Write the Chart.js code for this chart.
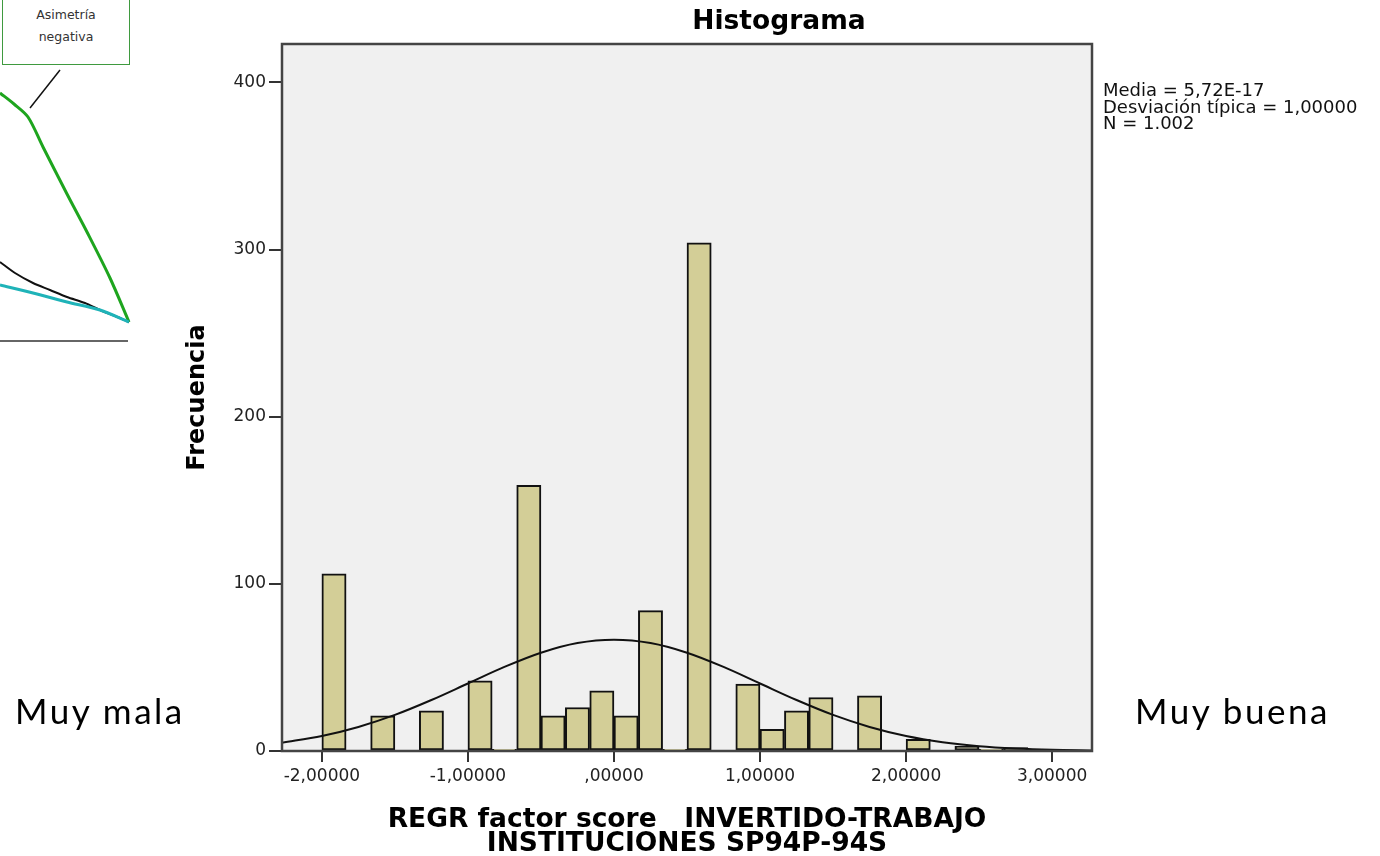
<!DOCTYPE html>
<html lang="es">
<head>
<meta charset="utf-8">
<title>Histograma</title>
<script src="https://cdn.jsdelivr.net/npm/chart.js@4.4.1/dist/chart.umd.min.js"></script>
<style>
  html, body { margin: 0; padding: 0; background: #fff; }
  #page { position: relative; width: 1380px; height: 856px; overflow: hidden; background: #fff; }
  #hist { position: absolute; left: 178px; top: 0; }
  #skew { position: absolute; left: 0; top: 0; }
  #skewBox {
    position: absolute; left: 2px; top: -10px; width: 128px; height: 75px; box-sizing: border-box;
    border: 1px solid #3f9a3f; background: #fff; text-align: center;
    font-family: "DejaVu Sans", sans-serif; font-size: 12.5px; line-height: 22px; color: #333; padding-top: 13px;
  }
  .side { position: absolute; top: 690px; font-family: Lato, sans-serif; font-size: 35px; line-height: 40px; letter-spacing: 2.5px; color: #000; }
  #stats {
    position: absolute; left: 1103px; top: 82px; font-family: "DejaVu Sans", sans-serif;
    font-size: 18px; line-height: 16.5px; color: #111; white-space: pre;
  }
</style>
</head>
<body>
<div id="page">
  <canvas id="skew" width="140" height="350"></canvas>
  <div id="skewBox">Asimetría<br>negativa</div>
  <canvas id="hist" width="1202" height="856"></canvas>
  <div class="side" id="lowLabel" style="left:15px"></div>
  <div class="side" id="highLabel" style="left:1135px"></div>
  <div id="stats"></div>
</div>
<script>
// histogram bins (centre of each bin) and counts
const binCenters = [-1.917, -1.75, -1.583, -1.417, -1.25, -1.083, -0.917, -0.75, -0.583, -0.417,
  -0.25, -0.083, 0.083, 0.25, 0.417, 0.583, 0.75, 0.917, 1.083, 1.25,
  1.417, 1.583, 1.75, 1.917, 2.083, 2.25, 2.417, 2.583, 2.75, 2.917];
const frequencies = [106, 0, 21, 0, 24, 0, 42, 1, 159, 21,
  26, 36, 21, 84, 1, 304, 0, 40, 13, 24,
  32, 0, 33, 0, 7, 0, 3, 1, 2, 1];

// normal curve
const curveX = [-2.273, -2, -1.75, -1.5, -1.25, -1, -0.75, -0.5, -0.25, 0, 0.25, 0.5,
  0.75, 1, 1.25, 1.5, 1.75, 2, 2.25, 2.5, 2.75, 3, 3.273];
const curveY = [5, 9, 14.4, 21.6, 30.5, 40.4, 50.3, 58.8, 64.6, 66.6, 64.6, 58.8,
  50.3, 40.4, 30.5, 21.6, 14.4, 9, 5.3, 2.9, 1.5, 0.7, 0.3];

const xTickValues = [-2, -1, 0, 1, 2, 3];
const xTickLabels = ['-2,00000', '-1,00000', ',00000', '1,00000', '2,00000', '3,00000'];
const yTickValues = [0, 100, 200, 300, 400];
const yTickLabels = ['0', '100', '200', '300', '400'];

const statLines = ['Media = 5,72E-17', 'Desviación típica = 1,00000', 'N = 1.002'];
const sideLabels = ['Muy mala', 'Muy buena'];

// left fragment (cut-off skewness sketch)
const greenCurve = [[0, 93], [14, 104], [28, 117], [43, 147], [67, 194], [87, 232], [110, 278], [129, 322]];
const blackCurve = [[0, 262], [15, 273], [33, 283], [50, 290], [67, 297], [85, 303], [100, 310], [115, 316], [129, 322]];
const cyanCurve = [[0, 285], [33, 293], [67, 302], [100, 310], [129, 322]];
const leaderLine = [[60, 70], [30, 108]];
const baseLine = [[0, 341], [128, 341]];

document.getElementById('stats').textContent = statLines.join('\n');
document.getElementById('lowLabel').textContent = sideLabels[0];
document.getElementById('highLabel').textContent = sideLabels[1];

const FONT = '"DejaVu Sans", sans-serif';

const plotFrame = {
  id: 'plotFrame',
  beforeDatasetsDraw(chart) {
    const a = chart.chartArea, ctx = chart.ctx;
    ctx.save();
    ctx.fillStyle = '#f0f0f0';
    ctx.fillRect(a.left, a.top, a.right - a.left, a.bottom - a.top);
    ctx.restore();
  },
  afterDatasetsDraw(chart) {
    const a = chart.chartArea, ctx = chart.ctx;
    ctx.save();
    ctx.strokeStyle = '#444';
    ctx.lineWidth = 2.5;
    ctx.strokeRect(a.left, a.top, a.right - a.left, a.bottom - a.top);
    ctx.restore();
  }
};

new Chart(document.getElementById('hist'), {
  type: 'bar',
  data: {
    datasets: [
      {
        type: 'line',
        data: curveX.map((x, i) => ({x: x, y: curveY[i]})),
        borderColor: '#111',
        borderWidth: 2,
        pointRadius: 0,
        cubicInterpolationMode: 'monotone',
        fill: false,
        order: 0
      },
      {
        type: 'bar',
        data: binCenters.map((x, i) => ({x: x, y: frequencies[i]})),
        backgroundColor: '#d3ce97',
        borderColor: '#111',
        borderWidth: 2,
        borderSkipped: false,
        barPercentage: 1,
        categoryPercentage: 1,
        order: 1
      }
    ]
  },
  options: {
    responsive: false,
    animation: false,
    devicePixelRatio: 1,
    layout: { padding: 0 },
    plugins: {
      legend: { display: false },
      tooltip: { enabled: false },
      title: {
        display: true,
        text: 'Histograma',
        color: '#000',
        font: { family: FONT, size: 26.5, weight: 'bold' },
        padding: { top: 6, bottom: 6.2 }
      }
    },
    scales: {
      x: {
        type: 'linear',
        min: -2.273,
        max: 3.273,
        offset: false,
        bounds: 'data',
        afterBuildTicks: axis => { axis.ticks = xTickValues.map(v => ({value: v})); },
        afterFit: axis => { axis.height = 105; },
        ticks: {
          autoSkip: false,
          maxRotation: 0,
          padding: 4,
          color: '#222',
          font: { family: FONT, size: 17 },
          callback: v => xTickLabels[xTickValues.indexOf(v)]
        },
        grid: { drawOnChartArea: false, drawTicks: true, tickLength: 11, tickColor: '#333', lineWidth: 2, offset: false },
        border: { display: false },
        title: {
          display: true,
          text: ['REGR factor score   INVERTIDO-TRABAJO', 'INSTITUCIONES SP94P-94S'],
          color: '#000',
          font: { family: FONT, size: 26.5, weight: 'bold', lineHeight: 0.9 },
          padding: { top: 10, bottom: 0 }
        }
      },
      y: {
        type: 'linear',
        min: 0,
        max: 423,
        bounds: 'data',
        afterBuildTicks: axis => { axis.ticks = yTickValues.map(v => ({value: v})); },
        afterFit: axis => { axis.width = 104; },
        ticks: {
          autoSkip: false,
          padding: 3,
          color: '#222',
          font: { family: FONT, size: 17 },
          callback: v => yTickLabels[yTickValues.indexOf(v)]
        },
        grid: { drawOnChartArea: false, drawTicks: true, tickLength: 13, tickColor: '#333', lineWidth: 2 },
        border: { display: false },
        title: {
          display: true,
          text: 'Frecuencia',
          color: '#000',
          font: { family: FONT, size: 24, weight: 'bold', lineHeight: 1.2 },
          padding: { top: 5, bottom: 0 }
        }
      },
      side: {
        type: 'linear',
        position: 'right',
        grid: { display: false },
        ticks: { display: false },
        border: { display: false },
        afterFit: axis => { axis.width = 288; }
      }
    }
  },
  plugins: [plotFrame]
});

const toPts = arr => arr.map(p => ({x: p[0], y: p[1]}));
new Chart(document.getElementById('skew'), {
  type: 'scatter',
  data: {
    datasets: [
      { data: toPts(baseLine), borderColor: '#666', borderWidth: 2, showLine: true, pointRadius: 0 },
      { data: toPts(cyanCurve), borderColor: '#1fb3b8', borderWidth: 3, showLine: true, pointRadius: 0, tension: 0.3 },
      { data: toPts(blackCurve), borderColor: '#111', borderWidth: 2, showLine: true, pointRadius: 0, tension: 0.3 },
      { data: toPts(greenCurve), borderColor: '#1ea51e', borderWidth: 3, showLine: true, pointRadius: 0, tension: 0.3 },
      { data: toPts(leaderLine), borderColor: '#111', borderWidth: 1.5, showLine: true, pointRadius: 0 }
    ]
  },
  options: {
    responsive: false,
    animation: false,
    devicePixelRatio: 1,
    layout: { padding: 0 },
    plugins: { legend: { display: false }, tooltip: { enabled: false } },
    scales: {
      x: { display: false, min: 0, max: 140 },
      y: { display: false, min: 0, max: 350, reverse: true }
    }
  }
});
</script>
</body>
</html>
